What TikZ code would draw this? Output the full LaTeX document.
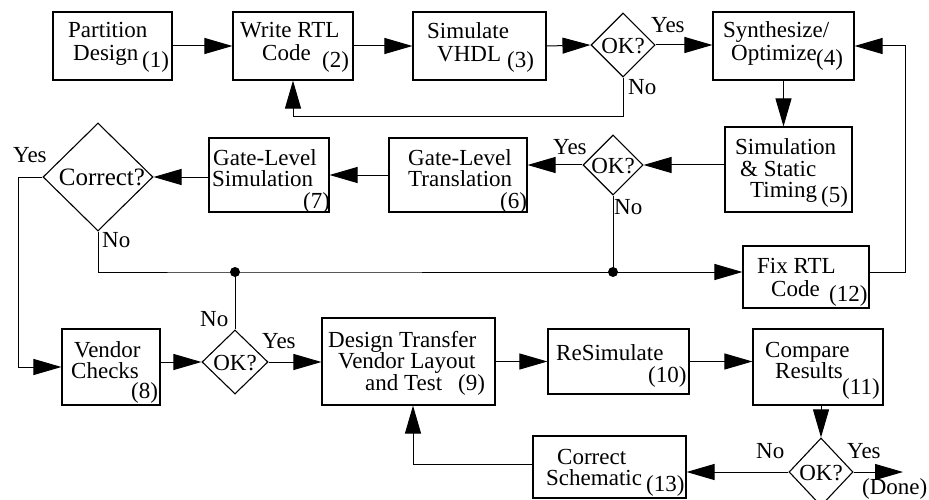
\documentclass[tikz,border=0pt]{standalone}
\usepackage{fontspec}
\setmainfont{Liberation Serif}
\usetikzlibrary{shapes.geometric,arrows.meta}
\newcommand\fsz{\fontsize{23}{27}\selectfont}
\begin{document}
\begin{tikzpicture}[x=1pt,y=-1pt,
 box/.style={draw, line width=1.1pt, rectangle, inner sep=0pt},
 dia/.style={draw, line width=1.1pt, diamond, inner sep=0pt},
 arr/.style={line width=1pt, -{Triangle[length=28pt,width=16pt]}},
 ln/.style={line width=1pt},
 tx/.style={anchor=base west, inner sep=0pt, font=\fsz},
 ct/.style={anchor=center, inner sep=0pt, font=\fsz},
 dotn/.style={circle, fill, inner sep=0pt, minimum size=10pt}]
\clip (0,0) rectangle (929,500);
% boxes
\node[box, minimum width=119pt, minimum height=68pt] (b1) at (112.5,46) {};
\node[box, minimum width=120pt, minimum height=68pt] (b2) at (293,46) {};
\node[box, minimum width=133pt, minimum height=68pt] (b3) at (479.5,46) {};
\node[dia, minimum width=64pt, minimum height=64pt] (d1) at (623,45) {};
\node[box, minimum width=141pt, minimum height=68pt] (b4) at (783.5,46) {};
\node[box, minimum width=127pt, minimum height=85pt] (b5) at (788.5,169.5) {};
\node[dia, minimum width=60pt, minimum height=60pt] (d2) at (613,165) {};
\node[box, minimum width=138pt, minimum height=74pt] (b6) at (458,175) {};
\node[box, minimum width=120pt, minimum height=74pt] (b7) at (269,175) {};
\node[dia, minimum width=110pt, minimum height=108pt] (dc) at (98,177) {};
\node[box, minimum width=126pt, minimum height=62pt] (b12) at (806,277) {};
\node[box, minimum width=98pt, minimum height=76pt] (b8) at (111,367) {};
\node[dia, minimum width=66pt, minimum height=64pt] (d3) at (235,362) {};
\node[box, minimum width=173pt, minimum height=87pt] (b9) at (408.5,361.5) {};
\node[box, minimum width=141pt, minimum height=65pt] (b10) at (618.5,361.5) {};
\node[box, minimum width=130pt, minimum height=76pt] (b11) at (818,367) {};
\node[dia, minimum width=64pt, minimum height=68pt] (d4) at (821,472) {};
\node[box, minimum width=153pt, minimum height=62pt] (b13) at (609.5,467) {};
% coordinates
\coordinate (r1) at (623,117);
\coordinate (cy) at (18,177);
\coordinate (j1) at (235,272);
\coordinate (j2) at (613,272);
\coordinate (fb) at (905,272);
\coordinate (dn) at (903,472);
\coordinate (c13) at (413,464);
% texts
\node[tx] (t1a) at (68,38) {Partition};
\node[tx] (t1b) at (73,61) {Design};
\node[tx] (t1c) at (142,68) {(1)};
\node[tx] (t2a) at (240,38) {Write RTL};
\node[tx] (t2b) at (262,61) {Code};
\node[tx] (t2c) at (322,68) {(2)};
\node[tx] (t3a) at (427,39) {Simulate};
\node[tx] (t3b) at (437,62) {VHDL};
\node[tx] (t3c) at (507,68) {(3)};
\node[ct] (td1) at (623,46) {OK?};
\node[tx] (y1) at (651,33) {Yes};
\node[tx] (n1) at (628,95) {No};
\node[tx] (t4a) at (723,38) {Synthesize/};
\node[tx] (t4b) at (731,61) {Optimize};
\node[tx] (t4c) at (816,66) {(4)};
\node[tx] (t5a) at (735,155) {Simulation};
\node[tx] (t5b) at (740,176) {\&\ Static};
\node[tx] (t5c) at (750,197) {Timing};
\node[tx] (t5d) at (821,202) {(5)};
\node[ct] (td2) at (613,166) {OK?};
\node[tx] (y2) at (553,155) {Yes};
\node[tx] (n2) at (614,214) {No};
\node[tx] (t6a) at (408,165) {Gate-Level};
\node[tx] (t6b) at (408,186) {Translation};
\node[tx] (t6c) at (500,208) {(6)};
\node[tx] (t7a) at (213,165) {Gate-Level};
\node[tx] (t7b) at (212,186) {Simulation};
\node[tx] (t7c) at (303,208) {(7)};
\node[ct, font=\fontsize{25}{29}\selectfont] (tdc) at (102,177) {Correct?};
\node[tx] (yc) at (13,163) {Yes};
\node[tx] (nc) at (102,247) {No};
\node[tx] (t12a) at (757,273) {Fix RTL};
\node[tx] (t12b) at (771,296) {Code};
\node[tx] (t12c) at (829,301) {(12)};
\node[tx] (t8a) at (74,357) {Vendor};
\node[tx] (t8b) at (71,378) {Checks};
\node[tx] (t8c) at (131,398) {(8)};
\node[ct] (td3) at (235,363) {OK?};
\node[tx] (n3) at (200,326) {No};
\node[tx] (y3) at (262,348) {Yes};
\node[tx] (t9a) at (328,347) {Design Transfer};
\node[tx] (t9b) at (338,368) {Vendor Layout};
\node[tx] (t9c) at (365,390) {and Test};
\node[tx] (t9d) at (458,390) {(9)};
\node[tx] (t10a) at (556,360) {ReSimulate};
\node[tx] (t10b) at (648,382) {(10)};
\node[tx] (t11a) at (765,357) {Compare};
\node[tx] (t11b) at (775,378) {Results};
\node[tx] (t11c) at (842,394) {(11)};
\node[ct] (td4) at (821,473) {OK?};
\node[tx] (n4) at (756,458) {No};
\node[tx] (y4) at (847,458) {Yes};
\node[tx] (done) at (862,494) {(Done)};
\node[tx] (t13a) at (557,464) {Correct};
\node[tx] (t13b) at (546,485) {Schematic};
\node[tx] (t13c) at (646,491) {(13)};
% connectors
\draw[arr] (b1.east) -- (b2.west);
\draw[arr] (b2.east) -- (b3.west);
\draw[arr] (b3.east) -- (d1.west);
\draw[arr] (d1.east) -- (d1.east -| b4.west);
\draw[arr] (d1.south) -- (r1) -| (b2.south);
\draw[arr] (b4.south) -- (b4.south |- b5.north);
\draw[arr] (b5.west |- d2.east) -- (d2.east);
\draw[arr] (d2.west) -- (d2.west -| b6.east);
\draw[arr] (b6.west) -- (b7.east);
\draw[arr] (b7.west |- dc.east) -- (dc.east);
\draw[arr] (dc.west) -- (cy) |- (b8.west);
\draw[ln] (dc.south) |- (j1) -- (j2);
\draw[arr] (j2) -- (j2 -| b12.west);
\draw[ln] (d2.south) -- (j2);
\draw[ln] (j1) -- (d3.north);
\draw[arr] (b12.east |- fb) -- (fb) |- (b4.east);
\node[dotn] (dot1) at (j1) {};
\node[dotn] (dot2) at (j2) {};
\draw[arr] (b8.east |- d3.west) -- (d3.west);
\draw[arr] (d3.east) -- (d3.east -| b9.west);
\draw[arr] (b9.east) -- (b10.west);
\draw[arr] (b10.east) -- (b10.east -| b11.west);
\draw[arr] (d4.north |- b11.south) -- (d4.north);
\draw[arr] (d4.west) -- (d4.west -| b13.east);
\draw[arr] (d4.east) -- (dn);
\draw[arr] (b13.west |- c13) -- (c13) -- (c13 |- b9.south);
\end{tikzpicture}
\end{document}
